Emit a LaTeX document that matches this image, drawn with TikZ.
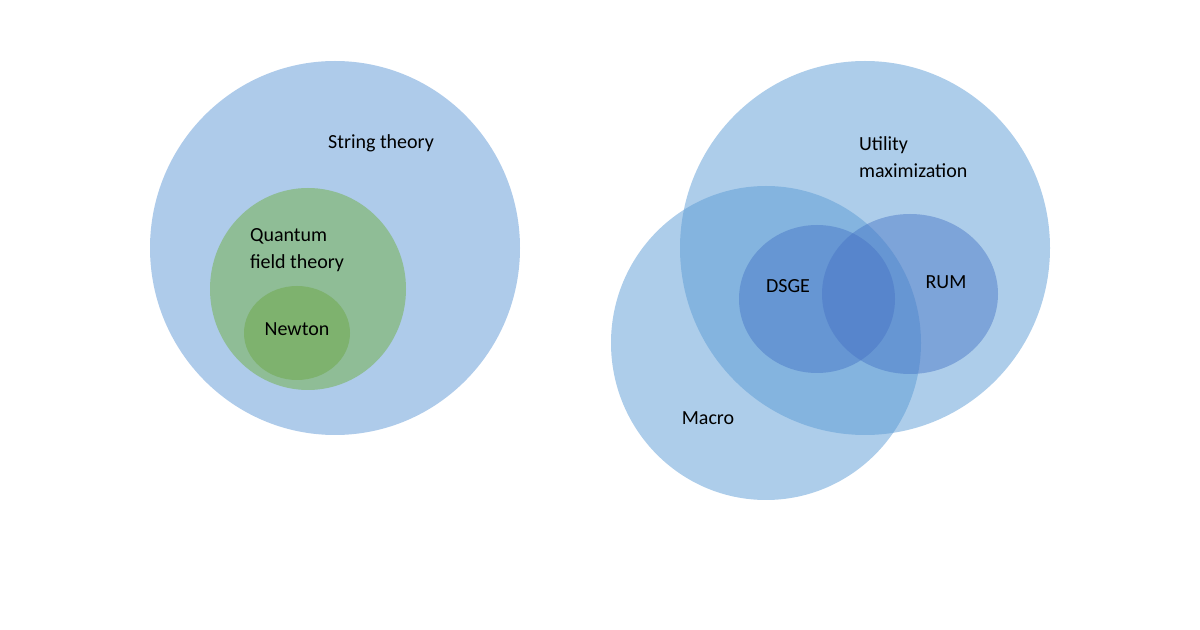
\documentclass[tikz,border=0pt]{standalone}
\usepackage{fontspec}
\setmainfont{Carlito}
\definecolor{lb}{RGB}{174,203,234}
\definecolor{gq}{RGB}{143,189,150}
\definecolor{gn}{RGB}{126,178,110}
\definecolor{bb}{RGB}{91,155,213}
\definecolor{db}{RGB}{68,114,196}
\begin{document}
\begin{tikzpicture}[x=0.5pt,y=-0.5pt,
  lbl/.style={font=\fontsize{10}{13.5}\selectfont, text=black},
  bl/.style={fill=bb, fill opacity=0.5, draw=none},
  dl/.style={fill=db, fill opacity=0.45, draw=none}]
\useasboundingbox (0,0) rectangle (1200,630);
\fill[lb] (335,248) ellipse [x radius=185, y radius=187];
\fill[gq] (308,289) ellipse [x radius=98, y radius=101];
\fill[gn] (297,333) ellipse [x radius=53, y radius=47];
\node[lbl] (st) at (381,143) {String theory};
\node[lbl, align=left, anchor=west] (qft) at (243,250) {Quantum\\field theory};
\node[lbl] (nw) at (297,329) {Newton};
\path[bl] (865,248) ellipse [x radius=185, y radius=187];
\path[bl] (766,343) ellipse [x radius=155, y radius=157];
\path[dl] (817,299) ellipse [x radius=78, y radius=74];
\path[dl] (910,294) ellipse [x radius=88, y radius=80];
\node[lbl, align=left, anchor=west] (um) at (852,157) {Utility\\maximization};
\node[lbl] (ds) at (788,286) {DSGE};
\node[lbl] (rum) at (946,282) {RUM};
\node[lbl] (mac) at (708,418) {Macro};
\end{tikzpicture}
\end{document}
